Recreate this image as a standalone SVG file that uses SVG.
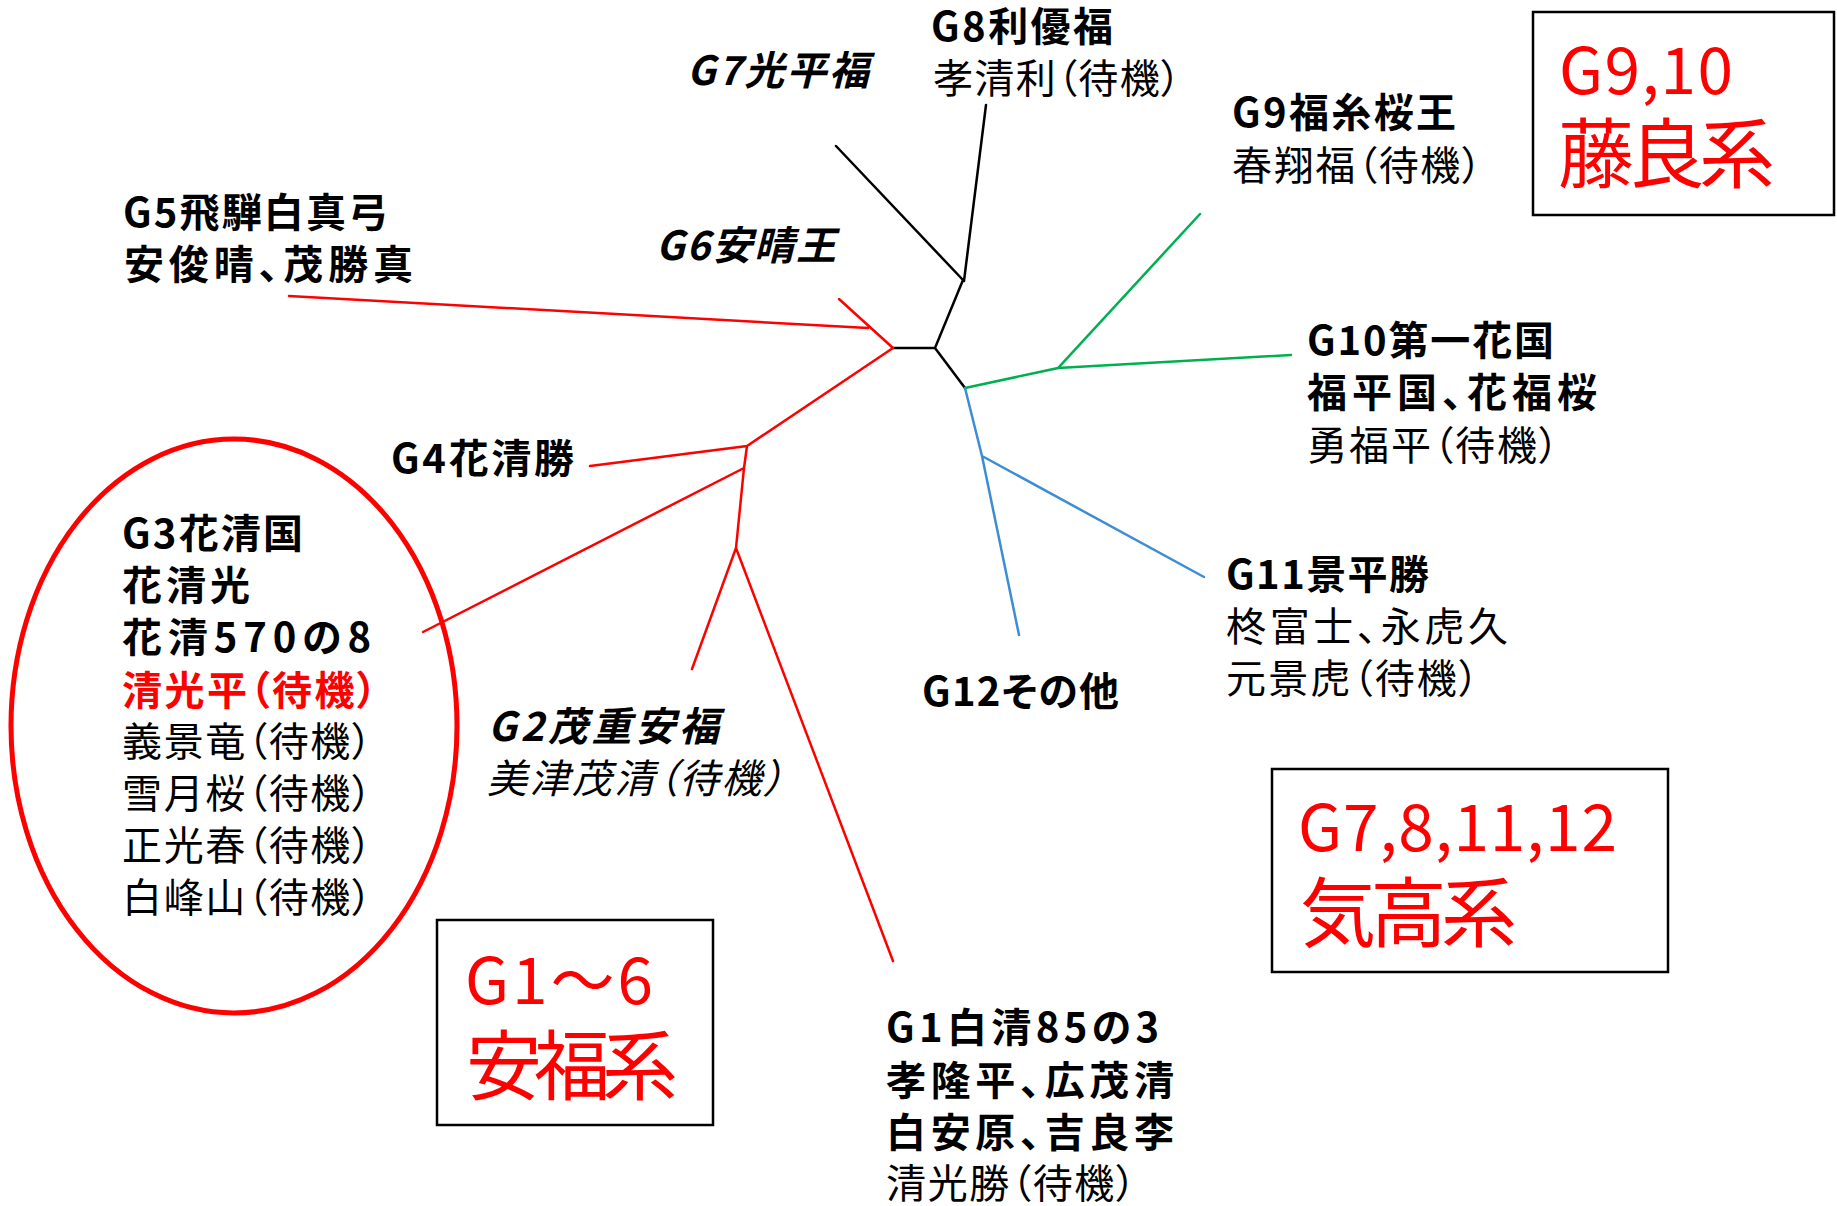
<svg xmlns="http://www.w3.org/2000/svg" width="1837" height="1206" viewBox="0 0 1837 1206">
<style>
text{font-family:"Noto Sans CJK JP","Noto Sans",sans-serif;font-size:40px;fill:#000;font-feature-settings:"palt" 1}
.b{font-weight:700}
.i{font-style:italic}
.r{fill:#ff0000}
.big{font-size:64px;fill:#ff0000;font-feature-settings:normal}
.huge{font-size:76px;fill:#ff0000;font-feature-settings:normal}
.k{stroke:#000;stroke-width:2.5;fill:none;stroke-linecap:round}
.red{stroke:#ff0000;stroke-width:2.5;fill:none;stroke-linecap:round}
.grn{stroke:#00b050;stroke-width:2.5;fill:none;stroke-linecap:round}
.blu{stroke:#3c8dd4;stroke-width:2.5;fill:none;stroke-linecap:round}
.box{fill:none;stroke:#000;stroke-width:2.5}
</style>
<rect width="1837" height="1206" fill="#fff"/>
<g id="connectors">
<path class="k" d="M893,348 L935,348 L963,280 M963,280 L836,146 M964,281 L986,105 M935,348 L965,388"/>
<path class="grn" d="M965,388 L1058,368 L1200,214 M1058,368 L1291,355"/>
<path class="blu" d="M965,388 L982,456 L1204,577 M982,456 L1019,635"/>
<path class="red" d="M893,348 L839,299 M289,296 L868,328 M893,348 L747,446 L590,466 M747,446 L744,468 L736,548 M744,468 L423,632 M736,548 L692,669 M736,548 L893,961"/>
</g>
<g id="G7"><text class="b i" x="687" y="85" textLength="182" lengthAdjust="spacing">G7光平福</text></g>
<g id="G8"><text class="b" x="931" y="41" textLength="182" lengthAdjust="spacing">G8利優福</text><text x="933" y="93" textLength="248" lengthAdjust="spacing">孝清利（待機）</text></g>
<g id="G6"><text class="b i" x="656" y="260" textLength="180" lengthAdjust="spacing">G6安晴王</text></g>
<g id="G5"><text class="b" x="123" y="227" textLength="265" lengthAdjust="spacing">G5飛騨白真弓</text><text class="b" x="124" y="279" textLength="289" lengthAdjust="spacing">安俊晴、茂勝真</text></g>
<g id="G4"><text class="b" x="391" y="473" textLength="183" lengthAdjust="spacing">G4花清勝</text></g>
<g id="G3">
<ellipse cx="234" cy="726" rx="223" ry="287" fill="none" stroke="#ff0000" stroke-width="5"/>
<text class="b" x="122" y="548" textLength="181" lengthAdjust="spacing">G3花清国</text>
<text class="b" x="122" y="600" textLength="128" lengthAdjust="spacing">花清光</text>
<text class="b" x="122" y="652" textLength="249" lengthAdjust="spacing">花清570の8</text>
<text class="b r" x="122" y="705" textLength="255" lengthAdjust="spacing">清光平（待機）</text>
<text x="122" y="756" textLength="250" lengthAdjust="spacing">義景竜（待機）</text>
<text x="122" y="808" textLength="250" lengthAdjust="spacing">雪月桜（待機）</text>
<text x="122" y="860" textLength="250" lengthAdjust="spacing">正光春（待機）</text>
<text x="122" y="912" textLength="250" lengthAdjust="spacing">白峰山（待機）</text>
</g>
<g id="G2"><text class="b i" x="488" y="741" textLength="231" lengthAdjust="spacing">G2茂重安福</text><text class="i" x="487" y="793" textLength="297" lengthAdjust="spacing">美津茂清（待機）</text></g>
<g id="G1">
<text class="b" x="886" y="1042" textLength="273" lengthAdjust="spacing">G1白清85の3</text>
<text class="b" x="886" y="1095" textLength="288" lengthAdjust="spacing">孝隆平、広茂清</text>
<text class="b" x="886" y="1147" textLength="288" lengthAdjust="spacing">白安原、吉良李</text>
<text x="886" y="1198" textLength="250" lengthAdjust="spacing">清光勝（待機）</text>
</g>
<g id="G9"><text class="b" x="1232" y="127" textLength="224" lengthAdjust="spacing">G9福糸桜王</text><text x="1232" y="180" textLength="250" lengthAdjust="spacing">春翔福（待機）</text></g>
<g id="G10"><text class="b" x="1307" y="355" textLength="247" lengthAdjust="spacing">G10第一花国</text><text class="b" x="1307" y="407" textLength="290" lengthAdjust="spacing">福平国、花福桜</text><text x="1307" y="460" textLength="252" lengthAdjust="spacing">勇福平（待機）</text></g>
<g id="G11"><text class="b" x="1226" y="589" textLength="203" lengthAdjust="spacing">G11景平勝</text><text x="1226" y="641" textLength="282" lengthAdjust="spacing">柊富士、永虎久</text><text x="1226" y="693" textLength="253" lengthAdjust="spacing">元景虎（待機）</text></g>
<g id="G12"><text class="b" x="922" y="706" textLength="197" lengthAdjust="spacing">G12その他</text></g>
<g id="box-fujiyoshi"><rect class="box" x="1533" y="12" width="301" height="203"/><text class="big" x="1559" y="94" textLength="174" lengthAdjust="spacing">G9,10</text><text class="huge" x="1558" y="182" textLength="217" lengthAdjust="spacing">藤良系</text></g>
<g id="box-anpuku"><rect class="box" x="437" y="920" width="276" height="205"/><text class="big" x="465" y="1004" textLength="188" lengthAdjust="spacing">G1～6</text><text class="huge" x="466" y="1094" textLength="212" lengthAdjust="spacing">安福系</text></g>
<g id="box-kitaka"><rect class="box" x="1272" y="769" width="396" height="203"/><text class="big" x="1298" y="851" textLength="319" lengthAdjust="spacing">G7,8,11,12</text><text class="huge" x="1300" y="941" textLength="217" lengthAdjust="spacing">気高系</text></g>
</svg>
